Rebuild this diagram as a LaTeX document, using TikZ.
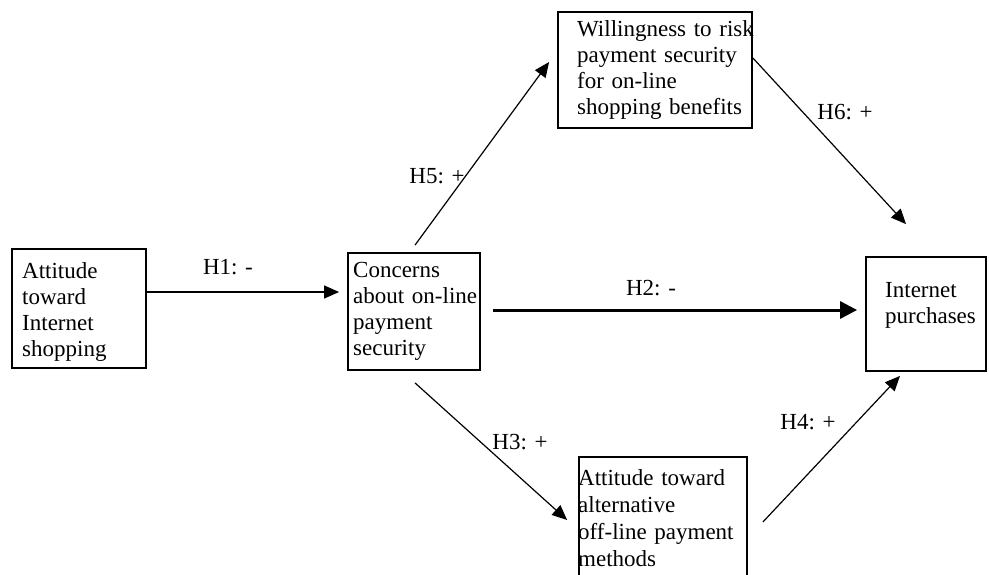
\documentclass[tikz,border=0pt]{standalone}
\usepackage{fontspec}
\setmainfont{Liberation Serif}
\usetikzlibrary{arrows.meta,calc}
\begin{document}
\begin{tikzpicture}[x=1pt,y=-1pt,
  box/.style={draw, line width=1.8pt, inner sep=0pt},
  txt/.style={inner sep=0pt, anchor=base west, align=left, text width=200pt, font=\fontsize{23}{26}\selectfont},
  lbl/.style={inner sep=0pt, font=\fontsize{23}{26}\selectfont},
  arr/.style={line width=1.2pt, -{Triangle[length=15pt,width=13pt]}},
  thickarr/.style={line width=3pt, -{Triangle[length=17pt,width=17pt]}}]
\useasboundingbox (0,0) rectangle (989,574);
\clip (0,0) rectangle (989,574);
% boxes
\node[box, minimum width=134pt, minimum height=119pt] (A) at (79,308.5) {};
\node[box, minimum width=132pt, minimum height=117pt] (B) at (414,311.5) {};
\node[box, minimum width=194pt, minimum height=116pt] (C) at (655,70) {};
\node[box, minimum width=120pt, minimum height=114pt] (D) at (926,314) {};
\node[box, minimum width=168pt, minimum height=143pt] (E) at (663,528.5) {};
% texts
\node[txt] (tA) at (22,278) {Attitude\\toward\\Internet\\shopping};
\node[txt] (tB) at (353,277) {Concerns\\about on-line\\payment\\security};
\node[txt] (tC) at (577,36) {Willingness to risk\\payment security\\for on-line\\shopping benefits};
\node[txt] (tD) at (885,297) {Internet\\purchases};
\node[txt, font=\fontsize{23}{27}\selectfont] (tE) at (578,485) {Attitude toward\\alternative\\off-line payment\\methods};
% connectors
\draw[arr] ($(A.east)+(0,-16.5)$) -- ($(B.west)+(-8,-19.5)$);
\draw[thickarr] ($(B.east)+(12,-1.5)$) -- ($(D.west)+(-8,-4)$);
\draw[arr] ($(B.north)+(1,-7)$) -- ($(C.west)+(-8,-8)$);
\draw[arr] ($(C.east)+(0,-12)$) -- ($(D.north)+(-20,-32)$);
\draw[arr] ($(B.south)+(1,12)$) -- ($(E.west)+(-11,-8.5)$);
\draw[arr] ($(E.east)+(15,-6.5)$) -- ($(D.south)+(-26,4)$);
% labels
\node[lbl] (l1) at (228,267) {H1: -};
\node[lbl] (l2) at (651,288) {H2: -};
\node[lbl] (l5) at (437,176) {H5: +};
\node[lbl] (l6) at (845,112) {H6: +};
\node[lbl] (l3) at (520,442) {H3: +};
\node[lbl] (l4) at (808,422) {H4: +};
\end{tikzpicture}
\end{document}
